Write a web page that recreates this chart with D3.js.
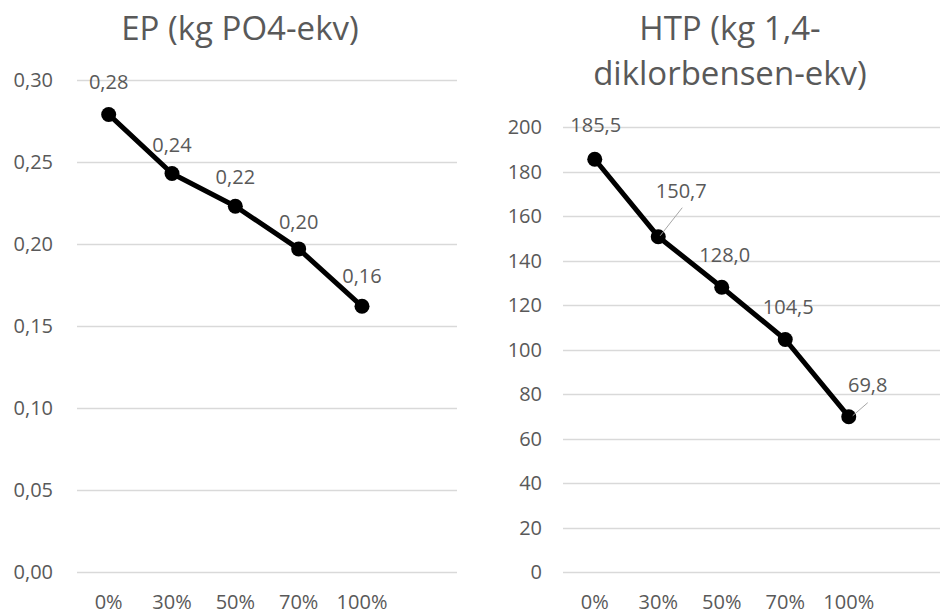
<!DOCTYPE html>
<html><head><meta charset="utf-8">
<script src="https://cdn.jsdelivr.net/npm/d3@7"></script>
<style>body{margin:0;background:#fff} text{font-family:"Open Sans",sans-serif;fill:#595959}</style>
</head><body><svg id="c" width="940" height="614"></svg>
<script>
const categories = ["0%","30%","50%","70%","100%"];
const epValues = [0.279,0.243,0.223,0.197,0.162];
const epLabels = ["0,28","0,24","0,22","0,20","0,16"];
const epTicks = [0,0.05,0.10,0.15,0.20,0.25,0.30];
const epTickLabels = ["0,00","0,05","0,10","0,15","0,20","0,25","0,30"];
const htpValues = [185.5,150.7,128.0,104.5,69.8];
const htpLabels = ["185,5","150,7","128,0","104,5","69,8"];
const htpTicks = [0,20,40,60,80,100,120,140,160,180,200];
const htpTickLabels = ["0","20","40","60","80","100","120","140","160","180","200"];

const svg = d3.select("#c");
const FS = 20;

function panel(cfg){
  const g = svg.append("g");
  const x = d3.scaleBand().domain(categories.concat([""])).range(cfg.xr).paddingInner(0).paddingOuter(0);
  const cx = c => x(c) + x.bandwidth()/2;
  const y = d3.scaleLinear().domain(cfg.yd).range(cfg.yr);
  g.selectAll("line.grid").data(cfg.ticks).join("line")
    .attr("x1", cfg.xr[0]).attr("x2", cfg.gridEnd)
    .attr("y1", d=>Math.round(y(d))+0.5).attr("y2", d=>Math.round(y(d))+0.5)
    .attr("stroke","#d9d9d9").attr("stroke-width",1.3);
  g.selectAll("text.yt").data(cfg.ticks).join("text")
    .attr("x", cfg.ytx).attr("y", d=>y(d)+7).attr("text-anchor","end")
    .attr("font-size",FS).text((d,i)=>cfg.tickLabels[i]);
  g.selectAll("text.xt").data(categories).join("text")
    .attr("x", d=>cx(d)).attr("y", 609).attr("text-anchor","middle")
    .attr("font-size",FS).text(d=>d);
  const line = d3.line().x((d,i)=>cx(categories[i])).y(d=>y(d));
  g.append("path").datum(cfg.values).attr("d", line)
    .attr("fill","none").attr("stroke","#000").attr("stroke-width",5).attr("stroke-linejoin","round");
  g.selectAll("circle").data(cfg.values).join("circle")
    .attr("cx",(d,i)=>cx(categories[i])).attr("cy",d=>y(d)).attr("r",7.5).attr("fill","#000");
  cfg.values.forEach((d,i)=>{
    const o = cfg.offsets[i];
    if(o.lead){
      const px = cx(categories[i]), py = y(d);
      g.append("line").attr("x1",px+o.lead[0]).attr("y1",py+o.lead[1])
        .attr("x2",px+o.lead[2]).attr("y2",py+o.lead[3])
        .attr("stroke","#a6a6a6").attr("stroke-width",1);
    }
  });
  g.selectAll("text.dl").data(cfg.values).join("text")
    .attr("x",(d,i)=>cx(categories[i])+cfg.offsets[i].dx)
    .attr("y",(d,i)=>y(d)+cfg.offsets[i].dy+7)
    .attr("text-anchor","middle").attr("font-size",FS)
    .text((d,i)=>cfg.labels[i]);
  cfg.title.forEach((t,i)=>{
    g.append("text").attr("x",cfg.tx).attr("y",cfg.ty+i*45).attr("text-anchor","middle")
      .attr("font-size",33).text(t);
  });
}

panel({
  xr:[77,457], gridEnd:457, yd:[0,0.3], yr:[572,80], ticks:epTicks, tickLabels:epTickLabels,
  ytx:53, values:epValues, labels:epLabels,
  offsets:[{dx:0,dy:-32},{dx:0,dy:-28},{dx:0,dy:-29},{dx:0,dy:-27},{dx:0,dy:-30}],
  title:["EP (kg PO4-ekv)"], tx:240, ty:40
});
panel({
  xr:[563,944], gridEnd:940, yd:[0,200], yr:[572,127], ticks:htpTicks, tickLabels:htpTickLabels,
  ytx:542, values:htpValues, labels:htpLabels,
  offsets:[{dx:1,dy:-34},{dx:23,dy:-46,lead:[2,-1,24,-29]},{dx:3,dy:-32},{dx:3,dy:-32},{dx:19,dy:-32,lead:[4,-1,19,-14]}],
  title:["HTP (kg 1,4-","diklorbensen-ekv)"], tx:730, ty:40
});
</script></body></html>
